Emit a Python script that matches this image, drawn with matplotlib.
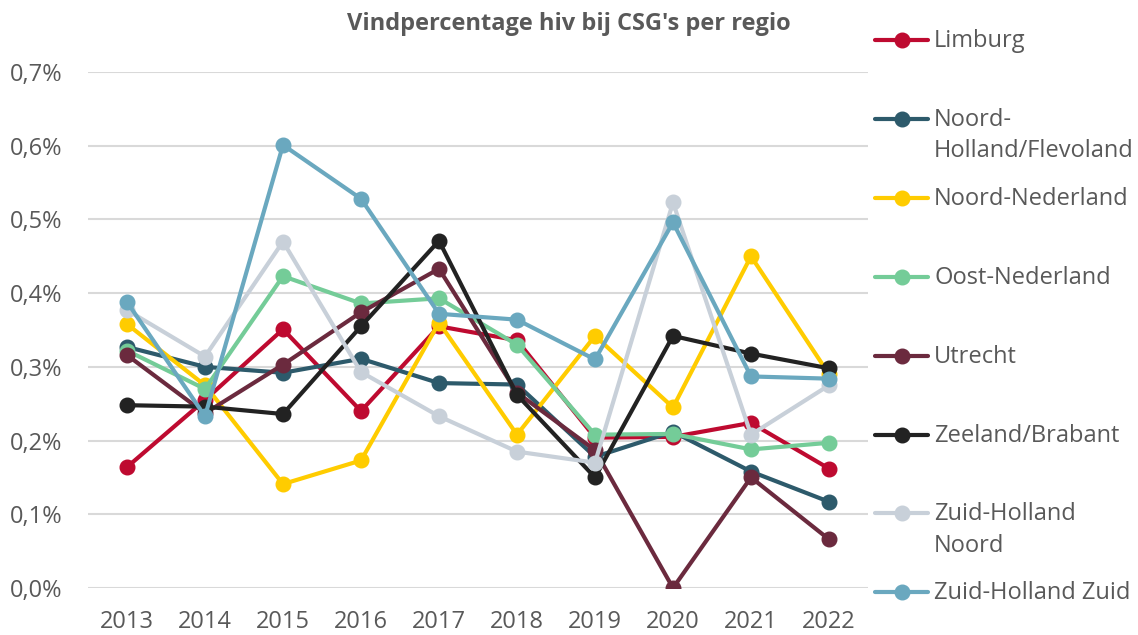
import matplotlib.pyplot as plt
from matplotlib.lines import Line2D
from matplotlib.ticker import FuncFormatter

# jaren en vindpercentages (%)
jaren = ["2013", "2014", "2015", "2016", "2017", "2018", "2019", "2020", "2021", "2022"]

limburg = [0.164, 0.255, 0.351, 0.240, 0.355, 0.336, 0.204, 0.205, 0.224, 0.162]
noord_holland = [0.327, 0.300, 0.292, 0.311, 0.278, 0.276, 0.178, 0.212, 0.158, 0.117]
noord_nederland = [0.358, 0.275, 0.141, 0.173, 0.360, 0.208, 0.342, 0.245, 0.450, 0.290]
oost_nederland = [0.322, 0.270, 0.423, 0.386, 0.393, 0.330, 0.208, 0.209, 0.188, 0.197]
utrecht = [0.316, 0.237, 0.303, 0.374, 0.433, 0.265, 0.187, 0.0, 0.150, 0.066]
zeeland_brabant = [0.248, 0.246, 0.236, 0.355, 0.471, 0.262, 0.150, 0.342, 0.318, 0.298]
zh_noord = [0.377, 0.314, 0.470, 0.293, 0.233, 0.185, 0.170, 0.523, 0.208, 0.275]
zh_zuid = [0.388, 0.233, 0.601, 0.528, 0.372, 0.364, 0.310, 0.496, 0.287, 0.284]

regio_namen = ["Limburg", "Noord-\nHolland/Flevoland", "Noord-Nederland", "Oost-Nederland",
               "Utrecht", "Zeeland/Brabant", "Zuid-Holland\nNoord", "Zuid-Holland Zuid"]
reeksen = [limburg, noord_holland, noord_nederland, oost_nederland,
           utrecht, zeeland_brabant, zh_noord, zh_zuid]
kleuren = ["#be0a30", "#2d5a6b", "#ffcc00", "#74cc98",
           "#6b2a3e", "#222222", "#c8d0d9", "#6aa8bf"]

plt.rcParams['font.family'] = ['Open Sans', 'DejaVu Sans']
tekstkleur = "#595959"

fig = plt.figure(figsize=(11.38, 6.35), dpi=100)
ax = fig.add_axes([88 / 1138, 47 / 635, 780 / 1138, 516 / 635])

x = range(len(jaren))
for waarden, kleur in zip(reeksen, kleuren):
    ax.plot(x, waarden, '-', color=kleur, linewidth=3, marker='o', markersize=10.5,
            solid_capstyle='round', zorder=3)

ax.set_xlim(-0.5, len(jaren) - 0.5)
ax.set_ylim(0, 0.7)
ax.set_yticks([i / 10 for i in range(8)])
ax.yaxis.set_major_formatter(FuncFormatter(lambda v, p: f"{v:.1f}%".replace(".", ",")))
ax.set_xticks(list(x))
ax.set_xticklabels(jaren)
ax.tick_params(length=0, labelsize=17, labelcolor=tekstkleur)
ax.tick_params(axis='y', pad=18.5)
ax.tick_params(axis='x', pad=16)
ax.grid(axis='y', color='#d9d9d9', linewidth=1.5, zorder=0)
ax.set_axisbelow(True)
for s in ax.spines.values():
    s.set_visible(False)

fig.text(0.500, 0.962, "Vindpercentage hiv bij CSG's per regio", ha='center', va='center',
         fontsize=17, fontweight='bold', color=tekstkleur)

# legenda rechts, handmatig
y0 = 1 - 40 / 635
stap = 78.9 / 635
for i, (naam, kleur) in enumerate(zip(regio_namen, kleuren)):
    y = y0 - i * stap
    fig.add_artist(Line2D([875 / 1138, 928 / 1138], [y, y], color=kleur, linewidth=3,
                          solid_capstyle='round', transform=fig.transFigure))
    fig.add_artist(Line2D([902 / 1138], [y], color=kleur, marker='o', markersize=10.5,
                          transform=fig.transFigure))
    fig.text(934 / 1138, y + 11 / 635, naam, ha='left', va='top', fontsize=17,
             color=tekstkleur, linespacing=1.4)

fig.savefig("out.png", dpi=100)
